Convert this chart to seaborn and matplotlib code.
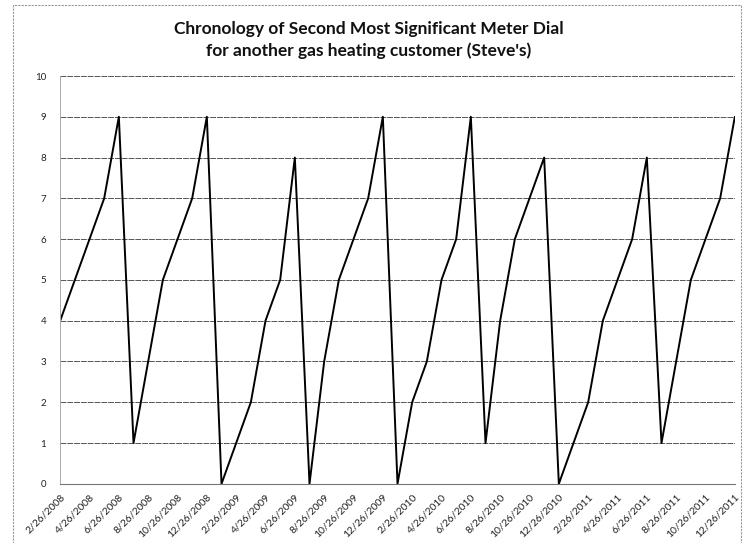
import matplotlib
matplotlib.use("Agg")
import matplotlib.pyplot as plt
import seaborn as sns
import pandas as pd
from matplotlib.patches import Rectangle

# ---- data ----
dial_values = [4, 5, 6, 7, 9, 1, 3, 5, 6, 7, 9, 0, 1, 2, 4, 5, 8, 0, 3, 5, 6, 7,
               9, 0, 2, 3, 5, 6, 9, 1, 4, 6, 7, 8, 0, 1, 2, 4, 5, 6, 8, 1, 3, 5,
               6, 7, 9]
tick_labels = ["2/26/2008", "4/26/2008", "6/26/2008", "8/26/2008", "10/26/2008", "12/26/2008",
               "2/26/2009", "4/26/2009", "6/26/2009", "8/26/2009", "10/26/2009", "12/26/2009",
               "2/26/2010", "4/26/2010", "6/26/2010", "8/26/2010", "10/26/2010", "12/26/2010",
               "2/26/2011", "4/26/2011", "6/26/2011", "8/26/2011", "10/26/2011", "12/26/2011"]
y_ticks = list(range(0, 11))
title = "Chronology of Second Most Significant Meter Dial\nfor another gas heating customer (Steve's)"

df = pd.DataFrame({"idx": list(range(len(dial_values))), "value": dial_values})

sns.set_theme(style="white")
plt.rcParams['font.family'] = ['Lato', 'DejaVu Sans']

fig = plt.figure(figsize=(7.43, 5.43), dpi=100)
ax = fig.add_axes([0.081, 0.109, 0.908, 0.751])

sns.lineplot(data=df, x="idx", y="value", ax=ax, color="black", linewidth=1.4)

ax.set_xlim(0, len(dial_values) - 1)
ax.set_ylim(0, 10)
ax.set_yticks(y_ticks)
ax.set_yticklabels([str(v) for v in y_ticks], fontsize=7, color="#222222")
ax.set_xticks(list(range(0, len(dial_values), 2)))
ax.set_xticklabels(tick_labels, rotation=45, ha="right", rotation_mode="anchor",
                   fontsize=7.5, color="#222222")
ax.tick_params(axis="x", length=3, width=0.6, color="#888888", pad=3)
ax.tick_params(axis="y", length=0, pad=10)

ax.grid(axis="y", color="#555555", linewidth=0.7, linestyle=(0, (6, 1)))
ax.grid(axis="x", visible=False)
for s in ["top", "right"]:
    ax.spines[s].set_visible(False)
ax.spines["left"].set_color("#aaaaaa")
ax.spines["left"].set_linewidth(0.7)
ax.spines["bottom"].set_color("#777777")
ax.spines["bottom"].set_linewidth(0.8)
ax.set_xlabel("")
ax.set_ylabel("")

fig.text(0.496, 0.962, title, ha="center", va="top", fontsize=12.5,
         fontweight="bold", linespacing=1.4, color="#111111")

fig.patches.append(Rectangle((0.017, -0.01), 0.98, 1.0, transform=fig.transFigure,
                             fill=False, edgecolor="#999999", linewidth=0.8,
                             linestyle=(0, (2, 1))))

fig.savefig("out.png", dpi=100)
